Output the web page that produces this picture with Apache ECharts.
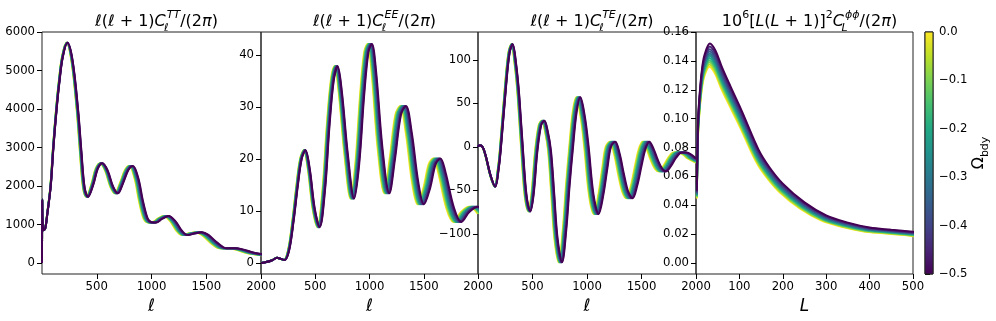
<!DOCTYPE html>
<html>
<head>
<meta charset="utf-8">
<script src="https://cdn.jsdelivr.net/npm/echarts@6/dist/echarts.min.js"></script>
<style>
    html, body { margin: 0; padding: 0; background: #ffffff; }
    #chart { width: 996px; height: 321px; }
</style>
</head>
<body>
<div id="chart"></div>
<script>
// curves for Omega_bdy = -0.5 (the purple, rightmost one)
const ttEll = [0, 2, 5, 15, 30, 50, 80, 105, 133, 158, 190, 233, 280, 330, 360, 390, 421, 470, 510, 552, 600, 650, 694, 740, 790, 830, 880, 920, 966, 1000, 1042, 1100, 1157, 1220, 1280, 1330, 1400, 1461, 1520, 1600, 1688, 1770, 1850, 1920, 2000, 2080];
const ttVal = [0, 1650, 1100, 850, 900, 1300, 2000, 3020, 3970, 4670, 5350, 5720, 5250, 3970, 2900, 1950, 1720, 2050, 2450, 2590, 2400, 1980, 1810, 2070, 2420, 2520, 2200, 1640, 1150, 1060, 1050, 1150, 1220, 1080, 830, 727, 770, 800, 730, 530, 381, 385, 340, 280, 233, 200];

const eeEll = [0, 30, 100, 150, 185, 220, 260, 300, 340, 375, 410, 450, 495, 541, 590, 630, 670, 706, 745, 800, 859, 905, 950, 990, 1022, 1060, 1120, 1183, 1235, 1290, 1336, 1390, 1450, 1502, 1560, 1610, 1654, 1700, 1780, 1847, 1920, 2000, 2080];
const eeVal = [0, 0.1, 0.5, 1.0, 0.8, 0.6, 2.5, 8, 15, 20, 21.7, 18, 10.5, 6.9, 14, 26, 35, 37.8, 33, 21, 12.4, 19, 32, 40.5, 42.1, 37, 22, 13.4, 20, 28.5, 30.2, 25, 15.5, 11.3, 14.5, 19, 20.1, 17.5, 10.5, 7.9, 9.8, 10.8, 9.5];

const teEll = [0, 10, 30, 50, 73, 119, 159, 190, 211, 257, 290, 318, 350, 379, 425, 450, 480, 510, 545, 580, 609, 640, 670, 700, 730, 771, 810, 840, 872, 905, 939, 980, 1015, 1060, 1107, 1150, 1190, 1220, 1260, 1300, 1340, 1380, 1419, 1460, 1500, 1535, 1572, 1610, 1650, 1690, 1725, 1770, 1820, 1870, 1914, 1960, 2000, 2080];
const teVal = [0, 2, 1.5, -2, -11, -34, -45.6, -25, 0, 69, 108, 118, 95, 58, -26, -60, -74, -55, -5, 25, 30, 18, -5, -55, -105, -132.6, -95, -45, 0, 40, 57, 35, 0, -55, -77, -55, -22, 0, 6, -8, -32, -52, -59, -45, -22, -3, 6, -2, -15, -25, -28, -22, -12, -6.5, -6.5, -9, -13, -18];

const phiL = [2, 5, 10, 15, 20, 32, 45, 60, 80, 100, 113, 145, 170, 200, 250, 300, 350, 400, 450, 500, 525];
const phiVal = [0.05, 0.1, 0.123, 0.137, 0.1445, 0.152, 0.147, 0.1355, 0.122, 0.109, 0.1, 0.078, 0.066, 0.055, 0.042, 0.033, 0.028, 0.0246, 0.023, 0.0216, 0.0207];

// one curve per Omega_bdy value; ell positions of the peaks relative to the purple curve,
// and the height of the lensing peak of each curve
const omegaBdy = [0, -0.05, -0.1, -0.15, -0.2, -0.25, -0.3, -0.35, -0.4, -0.45, -0.5];
const ellScale = [0.960, 0.964, 0.968, 0.972, 0.976, 0.980, 0.984, 0.988, 0.992, 0.996, 1.000];
const phiPeak = [0.136, 0.1375, 0.139, 0.1405, 0.142, 0.1435, 0.145, 0.1465, 0.148, 0.150, 0.152];

const ellTicks = [500, 1000, 1500, 2000];
const lTicks = [100, 200, 300, 400, 500];
const ttTicks = [0, 1000, 2000, 3000, 4000, 5000, 6000];
const eeTicks = [0, 10, 20, 30, 40];
const teTicks = [-100, -50, 0, 50, 100];
const phiTicks = [0, 0.02, 0.04, 0.06, 0.08, 0.10, 0.12, 0.14, 0.16];

const viridis = ['#fde725', '#bddf26', '#7ad151', '#44bf70', '#22a884', '#21918c', '#2a788e', '#355f8d', '#414487', '#482475', '#440154'];

const FONT = 'DejaVu Sans';
const panels = [
    { left: 42, width: 219 },
    { left: 261, width: 217 },
    { left: 478, width: 218 },
    { left: 696, width: 217 }
];

function minusSign(s) {
    return String(s).replace('-', '\u2212');
}

function makeXAxis(idx, max, ticks, name) {
    return {
        gridIndex: idx, type: 'value', min: 0, max: max,
        axisLine: { show: false, onZero: false }, splitLine: { show: false },
        axisTick: { show: true, length: 5, customValues: ticks, lineStyle: { color: '#000', width: 1 } },
        axisLabel: { customValues: ticks, fontSize: 11.7, color: '#000', margin: 7, fontFamily: FONT, formatter: v => String(v) },
        name: name, nameLocation: 'middle', nameGap: 19,
        nameTextStyle: { fontStyle: 'italic', fontSize: 17, color: '#000', fontFamily: FONT }
    };
}

function makeYAxis(idx, min, max, ticks, fmt) {
    return {
        gridIndex: idx, type: 'value', min: min, max: max,
        axisLine: { show: false, onZero: false }, splitLine: { show: false },
        axisTick: { show: true, length: 5, customValues: ticks, lineStyle: { color: '#000', width: 1 } },
        axisLabel: { customValues: ticks, fontSize: 11.7, color: '#000', margin: 7, fontFamily: FONT, formatter: fmt }
    };
}

function panelSeries(idx, ells, vals, amps) {
    return omegaBdy.map((om, i) => ({
        type: 'line', xAxisIndex: idx, yAxisIndex: idx,
        symbol: 'none', smooth: 0.35, silent: true, clip: true,
        lineStyle: { width: 2, color: viridis[i] },
        data: ells.map((l, k) => [l * ellScale[i], vals[k] * (amps ? amps[i] : 1)])
    }));
}

// the subscript gets a 1px box so the superscript that follows sits right above it
const titleRich = {
    i: { fontStyle: 'italic', fontSize: 16, fontFamily: FONT, lineHeight: 24 },
    sup: { fontStyle: 'italic', fontSize: 11, fontFamily: FONT, lineHeight: 12, verticalAlign: 'top' },
    sup2: { fontSize: 11, fontFamily: FONT, lineHeight: 12, verticalAlign: 'top' },
    sub: { fontStyle: 'italic', fontSize: 11, fontFamily: FONT, lineHeight: 12, verticalAlign: 'bottom', width: 1 }
};

const titles = [
    '{i|\u2113}({i|\u2113} + 1){i|C}{sub|\u2113}{sup|TT}/(2{i|\u03c0})',
    '{i|\u2113}({i|\u2113} + 1){i|C}{sub|\u2113}{sup|EE}/(2{i|\u03c0})',
    '{i|\u2113}({i|\u2113} + 1){i|C}{sub|\u2113}{sup|TE}/(2{i|\u03c0})',
    '10{sup2|6}[{i|L}({i|L} + 1)]{sup2|2}{i|C}{sub|L}{sup|\u03d5\u03d5}/(2{i|\u03c0})'
];

const phiMax = Math.max(...phiVal);
const phiAmp = phiPeak.map(p => p / phiMax);

const grids = panels.map(p => ({
    left: p.left, width: p.width, top: 32, height: 242,
    show: true, borderColor: '#222', borderWidth: 1, backgroundColor: 'transparent'
}));
grids.push({ left: 925, width: 8, top: 32, height: 242, show: true, borderColor: '#222', borderWidth: 1 });

const cbarStops = viridis.map((c, i) => ({ offset: i / (viridis.length - 1), color: c }));

const option = {
    animation: false,
    backgroundColor: '#ffffff',
    textStyle: { fontFamily: FONT },
    title: titles.map((t, i) => ({
        text: t, left: panels[i].left + panels[i].width / 2, top: 5, textAlign: 'center',
        textStyle: { fontSize: 16, fontWeight: 'normal', color: '#000', fontFamily: FONT, lineHeight: 24, rich: titleRich }
    })),
    grid: grids,
    xAxis: [
        makeXAxis(0, 2000, ellTicks, '\u2113'),
        makeXAxis(1, 2000, ellTicks, '\u2113'),
        makeXAxis(2, 2000, ellTicks, '\u2113'),
        makeXAxis(3, 500, lTicks, 'L'),
        { gridIndex: 4, type: 'value', min: 0, max: 1, show: false }
    ],
    yAxis: [
        makeYAxis(0, -286, 6000, ttTicks, v => String(v)),
        makeYAxis(1, -2.1, 44.4, eeTicks, v => String(v)),
        makeYAxis(2, -146, 132, teTicks, v => minusSign(v)),
        makeYAxis(3, -0.0076, 0.16, phiTicks, v => v.toFixed(2)),
        {
            gridIndex: 4, type: 'value', min: -0.5, max: 0, interval: 0.1, position: 'right',
            axisLine: { show: false }, splitLine: { show: false },
            axisTick: { show: true, length: 5, lineStyle: { color: '#000', width: 1 } },
            axisLabel: {
                fontSize: 11.7, color: '#000', margin: 6, fontFamily: FONT,
                formatter: v => v === 0 ? '0.0' : minusSign(v.toFixed(1))
            },
            name: '{o|\u03a9}{b|bdy}', nameLocation: 'middle', nameGap: 33, nameRotate: 90,
            nameTextStyle: {
                color: '#000',
                rich: {
                    o: { fontSize: 16, fontFamily: FONT, lineHeight: 22 },
                    b: { fontSize: 11, fontFamily: FONT, lineHeight: 12, verticalAlign: 'bottom' }
                }
            }
        }
    ],
    series: [
        ...panelSeries(0, ttEll, ttVal),
        ...panelSeries(1, eeEll, eeVal),
        ...panelSeries(2, teEll, teVal),
        ...panelSeries(3, phiL, phiVal, phiAmp),
        {
            type: 'custom', xAxisIndex: 4, yAxisIndex: 4, silent: true,
            data: [[0, 0]],
            renderItem: (params, api) => {
                const top = api.coord([0, 0]);
                const bot = api.coord([1, -0.5]);
                return {
                    type: 'rect',
                    shape: { x: top[0], y: top[1], width: bot[0] - top[0], height: bot[1] - top[1] },
                    style: { fill: new echarts.graphic.LinearGradient(0, 0, 0, 1, cbarStops), stroke: '#222', lineWidth: 1 }
                };
            }
        }
    ]
};

const myChart = echarts.init(document.getElementById('chart'));
myChart.setOption(option);
</script>
</body>
</html>
